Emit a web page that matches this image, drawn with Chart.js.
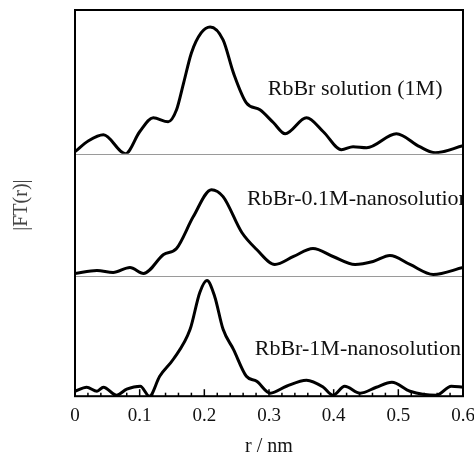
<!DOCTYPE html>
<html>
<head>
<meta charset="utf-8">
<script src="https://cdn.jsdelivr.net/npm/chart.js@4.4.1/dist/chart.umd.min.js"></script>
<style>
  html, body { margin: 0; padding: 0; background: #fff; }
  #wrap { width: 474px; height: 455px; }
</style>
</head>
<body>
<div id="wrap"><canvas id="c" width="474" height="455"></canvas></div>
<script>
// ---- data (r in nm, |FT(r)| in arbitrary units) ----
const rTop   = [0, 0.021, 0.044, 0.078, 0.100, 0.121, 0.144, 0.157, 0.168, 0.180, 0.195, 0.209, 0.229, 0.245, 0.265, 0.286, 0.307, 0.325, 0.358, 0.384, 0.412, 0.430, 0.451, 0.497, 0.533, 0.557, 0.600];
const ftTop  = [0.02, 0.13, 0.19, 0.00, 0.22, 0.36, 0.32, 0.44, 0.71, 1.01, 1.21, 1.27, 1.14, 0.81, 0.51, 0.44, 0.31, 0.20, 0.36, 0.22, 0.04, 0.07, 0.06, 0.20, 0.07, 0.01, 0.08];

const rMid   = [0, 0.034, 0.059, 0.085, 0.106, 0.137, 0.157, 0.183, 0.211, 0.229, 0.258, 0.281, 0.309, 0.338, 0.368, 0.399, 0.433, 0.461, 0.487, 0.518, 0.554, 0.600];
const ftMid  = [0.03, 0.06, 0.04, 0.09, 0.03, 0.22, 0.28, 0.60, 0.87, 0.80, 0.44, 0.27, 0.12, 0.20, 0.28, 0.20, 0.12, 0.15, 0.21, 0.12, 0.02, 0.09];

const rBot   = [0, 0.018, 0.034, 0.044, 0.064, 0.080, 0.101, 0.115, 0.131, 0.152, 0.178, 0.193, 0.204, 0.216, 0.229, 0.245, 0.265, 0.281, 0.302, 0.327, 0.358, 0.384, 0.399, 0.417, 0.441, 0.466, 0.490, 0.518, 0.559, 0.582, 0.600];
const ftBot  = [0.05, 0.09, 0.05, 0.09, 0.01, 0.07, 0.10, 0.00, 0.20, 0.37, 0.67, 1.04, 1.16, 1.00, 0.67, 0.47, 0.20, 0.15, 0.03, 0.10, 0.16, 0.09, 0.01, 0.10, 0.03, 0.09, 0.14, 0.05, 0.01, 0.10, 0.09];

const seriesNames = ['RbBr solution (1M)', 'RbBr-0.1M-nanosolution', 'RbBr-1M-nanosolution'];
const xTickLabels = ['0', '0.1', '0.2', '0.3', '0.4', '0.5', '0.6'];
const xTitle = 'r / nm';
const yTitle = '|FT(r)|';

const SERIF = "'Liberation Serif', 'Times New Roman', serif";

const pts = (rs, vs) => rs.map((r, i) => ({ x: r, y: vs[i] }));

const decor = {
  id: 'decor',
  beforeDatasetsDraw(chart) {
    const { ctx, chartArea: a, scales } = chart;
    ctx.save();
    ctx.strokeStyle = '#9a9a9a';
    ctx.lineWidth = 1;
    ['yTop', 'yMid'].forEach(id => {
      const y = Math.round(scales[id].getPixelForValue(0)) + 0.5;
      ctx.beginPath(); ctx.moveTo(a.left, y); ctx.lineTo(a.right, y); ctx.stroke();
    });
    ctx.restore();
  },
  afterDatasetsDraw(chart) {
    const { ctx, chartArea: a, scales } = chart;
    const xs = scales.x;
    ctx.save();
    // inward ticks
    ctx.strokeStyle = '#000';
    ctx.lineWidth = 1.5;
    xs.ticks.forEach(t => {
      const px = xs.getPixelForValue(t.value);
      const major = Math.round(t.value * 100) % 10 === 0;
      const len = major ? 7 : 3.5;
      ctx.beginPath(); ctx.moveTo(px, a.bottom); ctx.lineTo(px, a.bottom - len); ctx.stroke();
    });
    // frame
    ctx.lineWidth = 2;
    ctx.strokeRect(a.left, a.top, a.right - a.left, a.bottom - a.top);
    // panel labels
    ctx.save();
    ctx.beginPath(); ctx.rect(a.left, a.top, a.right - a.left - 1, a.bottom - a.top); ctx.clip();
    ctx.fillStyle = '#111';
    ctx.font = '22px ' + SERIF;
    ctx.textBaseline = 'middle';
    ctx.textAlign = 'left';
    ctx.fillText(seriesNames[0], xs.getPixelForValue(0.298), scales.yTop.getPixelForValue(0.65));
    ctx.fillText(seriesNames[1], xs.getPixelForValue(0.266), scales.yMid.getPixelForValue(0.77));
    ctx.fillText(seriesNames[2], xs.getPixelForValue(0.278), scales.yBot.getPixelForValue(0.47));
    ctx.restore();
    // y title
    ctx.fillStyle = '#444';
    ctx.font = '20px ' + SERIF;
    ctx.textAlign = 'center';
    ctx.textBaseline = 'middle';
    ctx.translate(22, (a.top + a.bottom) / 2 + 2);
    ctx.rotate(-Math.PI / 2);
    ctx.fillText(yTitle, 0, 0);
    ctx.restore();
  }
};

const lineStyle = {
  borderColor: '#000',
  borderWidth: 3,
  pointRadius: 0,
  fill: false,
  cubicInterpolationMode: 'monotone'
};

new Chart(document.getElementById('c'), {
  type: 'line',
  data: {
    datasets: [
      Object.assign({ label: seriesNames[0], data: pts(rTop, ftTop), yAxisID: 'yTop' }, lineStyle),
      Object.assign({ label: seriesNames[1], data: pts(rMid, ftMid), yAxisID: 'yMid' }, lineStyle),
      Object.assign({ label: seriesNames[2], data: pts(rBot, ftBot), yAxisID: 'yBot' }, lineStyle)
    ]
  },
  options: {
    responsive: false,
    animation: false,
    devicePixelRatio: 1,
    layout: { padding: { left: 75, right: 11, top: 10, bottom: -2 } },
    plugins: { legend: { display: false }, tooltip: { enabled: false } },
    scales: {
      x: {
        type: 'linear',
        position: 'bottom',
        min: 0, max: 0.6,
        afterFit: (s) => { s.paddingRight = 0; },
        grid: { display: false, drawTicks: false },
        border: { display: false },
        ticks: {
          stepSize: 0.02,
          maxTicksLimit: 100,
          autoSkip: false,
          maxRotation: 0,
          padding: 8,
          color: '#111',
          font: { family: SERIF, size: 19 },
          callback: (v) => {
            const k = Math.round(v * 100);
            return k % 10 === 0 ? xTickLabels[k / 10] : '';
          }
        },
        title: {
          display: true,
          text: xTitle,
          color: '#111',
          font: { family: SERIF, size: 20, lineHeight: 1 },
          padding: { top: 2, bottom: 0 }
        }
      },
      yBot: { type: 'linear', position: 'left', stack: 'p', stackWeight: 120, min: 0, max: 1.20, display: false },
      yMid: { type: 'linear', position: 'left', stack: 'p', stackWeight: 123, min: 0, max: 1.23, display: false },
      yTop: { type: 'linear', position: 'left', stack: 'p', stackWeight: 144, min: 0, max: 1.44, display: false }
    }
  },
  plugins: [decor]
});
</script>
</body>
</html>
